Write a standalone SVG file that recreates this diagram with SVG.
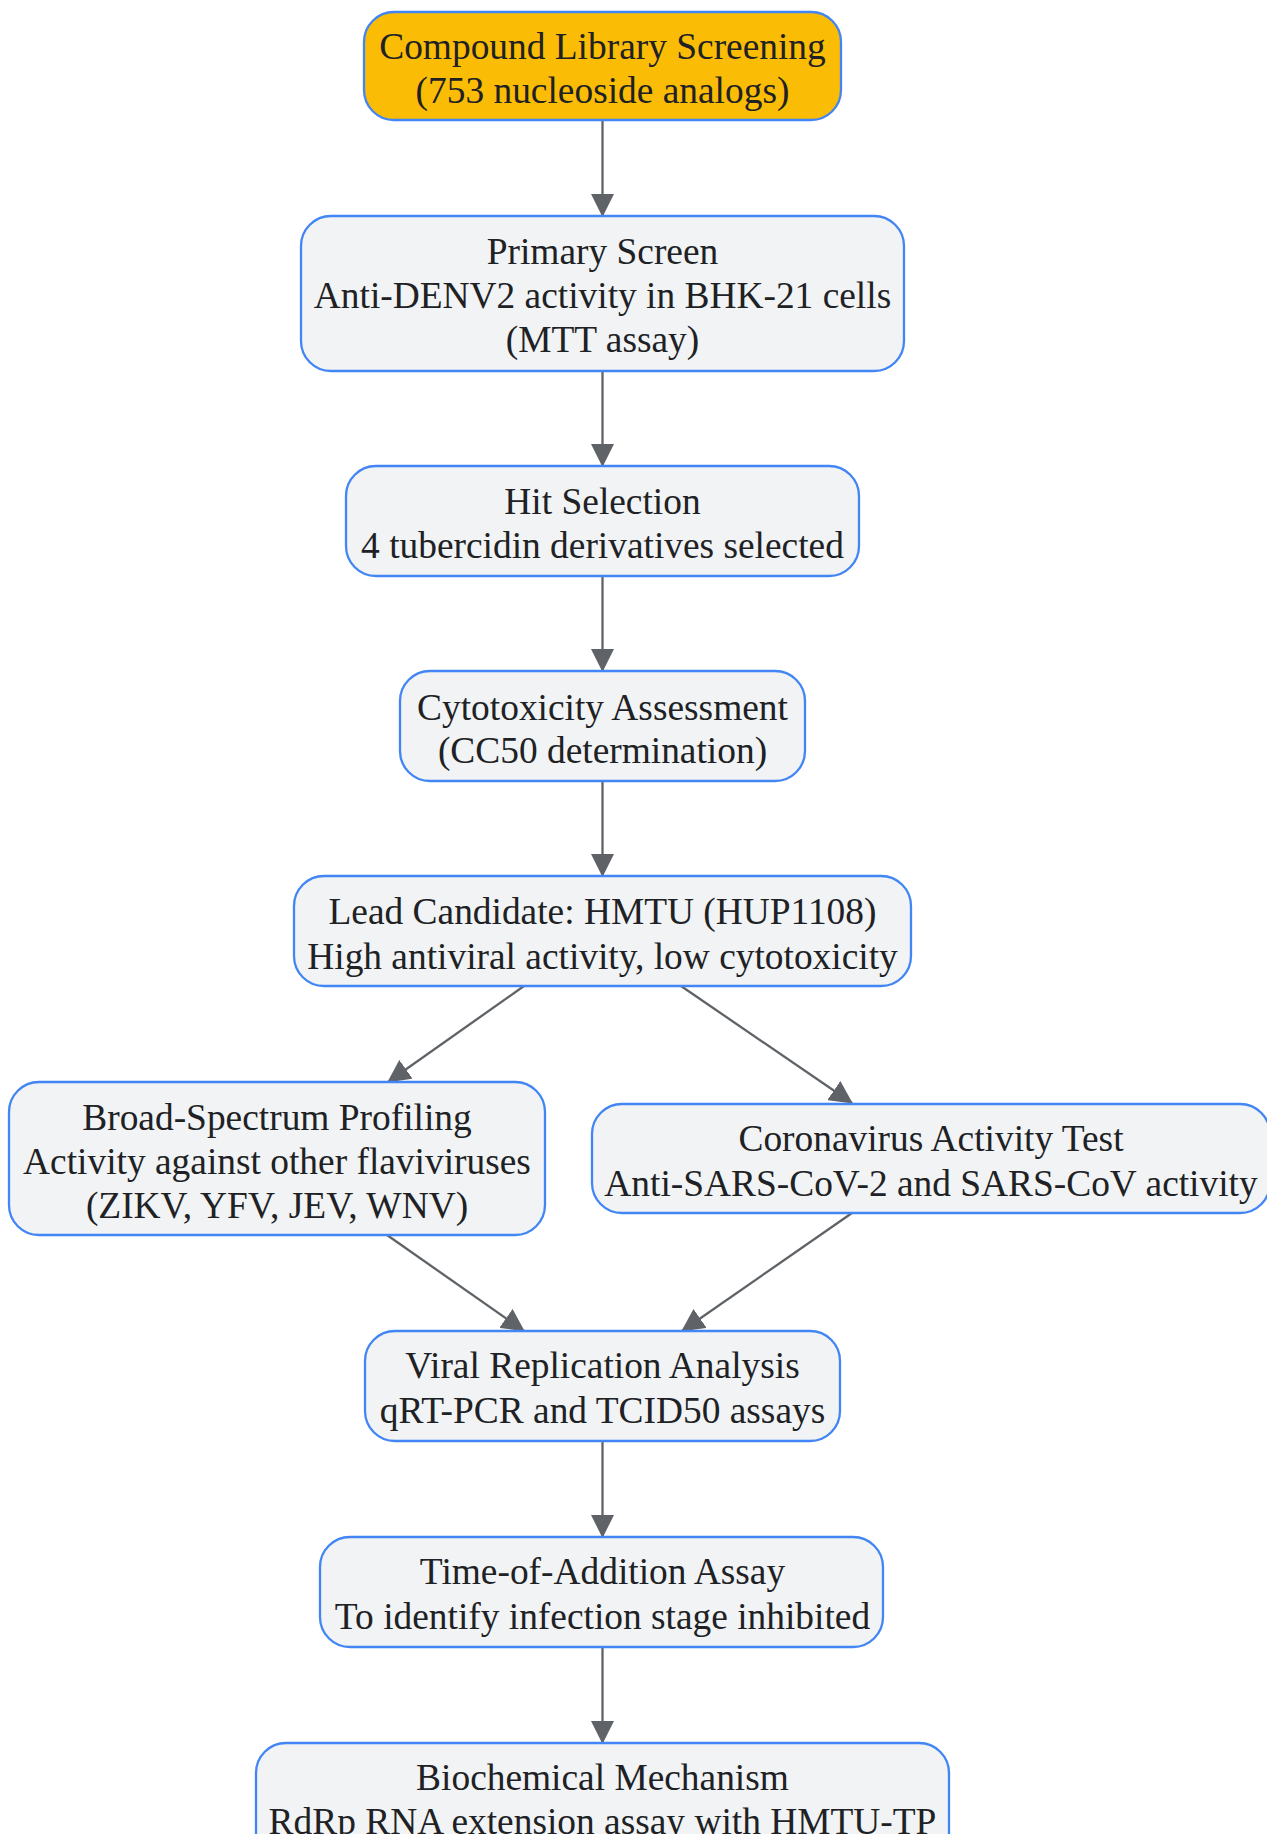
<svg xmlns="http://www.w3.org/2000/svg" width="1267" height="1834" viewBox="0 0 1267 1834">
<defs>
<style>
.n rect{fill:#F1F3F4;stroke:#4285F4;stroke-width:2.3}
.n.start rect{fill:#FBBC05}
.n text{font-family:"Liberation Serif","Times New Roman",serif;font-size:37.4px;fill:#202124;text-anchor:middle;dominant-baseline:central}
.e path{fill:none;stroke:#5F6368;stroke-width:2.3;marker-end:url(#arr)}
</style>
<marker id="arr" markerUnits="userSpaceOnUse" markerWidth="23" markerHeight="23" refX="22" refY="11.5" orient="auto" viewBox="0 0 23 23">
<path d="M0,0 L23,11.5 L0,23 z" fill="#5F6368"/>
</marker>
</defs>
<rect width="1267" height="1834" fill="#FFFFFF"/>
<g id="edges" class="e">
<path d="M602.5,120 L602.5,216"/>
<path d="M602.5,371 L602.5,466"/>
<path d="M602.5,576 L602.5,671"/>
<path d="M602.5,781 L602.5,876"/>
<path d="M524,986 L388,1082"/>
<path d="M681,986 L852,1103"/>
<path d="M387,1235 L524,1331"/>
<path d="M852,1213 L682,1331"/>
<path d="M602.5,1441 L602.5,1537"/>
<path d="M602.5,1647 L602.5,1743"/>
</g>
<g id="n1" class="n start">
<rect x="364" y="12" width="477" height="108" rx="30"/>
<text x="602.5" y="46">Compound Library Screening</text>
<text x="602.5" y="90">(753 nucleoside analogs)</text>
</g>
<g id="n2" class="n">
<rect x="301" y="216" width="603" height="155" rx="30"/>
<text x="602.5" y="251">Primary Screen</text>
<text x="602.5" y="295">Anti-DENV2 activity in BHK-21 cells</text>
<text x="602.5" y="339">(MTT assay)</text>
</g>
<g id="n3" class="n">
<rect x="346" y="466" width="513" height="110" rx="30"/>
<text x="602.5" y="501">Hit Selection</text>
<text x="602.5" y="545">4 tubercidin derivatives selected</text>
</g>
<g id="n4" class="n">
<rect x="400" y="671" width="405" height="110" rx="30"/>
<text x="602.5" y="707">Cytotoxicity Assessment</text>
<text x="602.5" y="750">(CC50 determination)</text>
</g>
<g id="n5" class="n">
<rect x="294" y="876" width="617" height="110" rx="30"/>
<text x="602.5" y="911">Lead Candidate: HMTU (HUP1108)</text>
<text x="602.5" y="956">High antiviral activity, low cytotoxicity</text>
</g>
<g id="n6" class="n">
<rect x="9" y="1082" width="536" height="153" rx="30"/>
<text x="277" y="1117">Broad-Spectrum Profiling</text>
<text x="277" y="1161">Activity against other flaviviruses</text>
<text x="277" y="1205">(ZIKV, YFV, JEV, WNV)</text>
</g>
<g id="n7" class="n">
<rect x="592" y="1104" width="678" height="109" rx="30"/>
<text x="931" y="1138">Coronavirus Activity Test</text>
<text x="931" y="1183">Anti-SARS-CoV-2 and SARS-CoV activity</text>
</g>
<g id="n8" class="n">
<rect x="365" y="1331" width="475" height="110" rx="30"/>
<text x="602.5" y="1365">Viral Replication Analysis</text>
<text x="602.5" y="1410">qRT-PCR and TCID50 assays</text>
</g>
<g id="n9" class="n">
<rect x="320" y="1537" width="563" height="110" rx="30"/>
<text x="602.5" y="1571">Time-of-Addition Assay</text>
<text x="602.5" y="1616">To identify infection stage inhibited</text>
</g>
<g id="n10" class="n">
<rect x="256" y="1743" width="693" height="155" rx="30"/>
<text x="602.5" y="1777">Biochemical Mechanism</text>
<text x="602.5" y="1821">RdRp RNA extension assay with HMTU-TP</text>
</g>
</svg>
